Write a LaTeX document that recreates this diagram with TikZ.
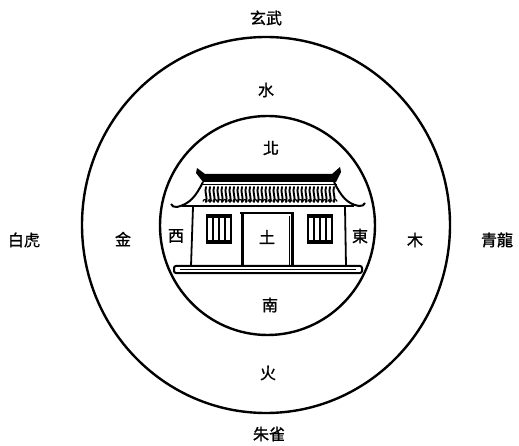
\documentclass[tikz,border=0pt]{standalone}
\usepackage{fontspec}
\newfontfamily\cjk[FakeBold=1.2]{Noto Sans CJK TC}
\begin{document}
\begin{tikzpicture}[x=1pt,y=-1pt,
  lbl/.style={font=\cjk\fontsize{16}{16}\selectfont, inner sep=0pt},
  ring/.style={line width=2.4pt},
  wall/.style={line width=1.8pt},
  post/.style={line width=3pt},
  tile/.style={line width=1.9pt, line cap=round}]
\useasboundingbox (0,0) rectangle (519,446);
\fill[white] (0,0) rectangle (519,446);

% the two rings
\draw[ring] (266,225) ellipse [x radius=184, y radius=188];
\draw[ring] (267.5,225.5) ellipse [x radius=107.5, y radius=109.5];

% --- house ---
% ridge with upturned ends
\fill (197,168) -- (205,174) -- (332,174) -- (340,167) -- (341,172) -- (336,182)
      -- (203,182) -- (196,173) -- cycle;
\draw[line width=1.4pt] (201,184.5) -- (337,184.5);
% roof slopes sweeping out to curled eaves
\draw[line width=2pt] (203,182) .. controls (196,196) and (190,204) .. (177,207)
      .. controls (174,207.5) and (172,206) .. (171,204);
\draw[line width=2pt] (334,182) .. controls (341,196) and (347,204) .. (359,206)
      .. controls (362,206.5) and (364,205) .. (365,203);
% tiles
\foreach \x in {206,210,...,334}
  \draw[tile] (\x,187) .. controls (\x-2,192) and (\x+2,197) .. (\x,202);
\foreach \x in {205,210,...,335}
  \draw[line width=1.2pt] (\x-2,201.5) arc[start angle=180, end angle=360, radius=2];
% eave beam
\draw[line width=2.6pt] (182,206) -- (354,206);
% walls
\draw[wall] (193,207) -- (191,266);
\draw[wall] (345,207) -- (346,266);
% door
\draw[post] (242,212) -- (242,266);
\draw[post] (292,212) -- (292,266);
\draw[line width=2.2pt] (240,213) -- (294,213);
\draw[line width=0.8pt] (289,216) -- (289,265);
% windows
\foreach \wx in {206,307}{
  \draw[line width=3.4pt] (\wx,216) -- (\wx+26,216);
  \draw[line width=3.4pt] (\wx,242) -- (\wx+26,242);
  \foreach \d in {0.9,6.8,12.8,18.8,25.1}
    \draw[line width=2pt] (\wx+\d,216) -- (\wx+\d,242);
}
% base platform
\draw[line width=2pt, rounded corners=2pt] (174,266) rectangle (362,273);
\draw[line width=1pt] (180,269.5) -- (356,269.5);

% --- labels ---
\node[lbl] (xuanwu) at (266,18)  {玄武};
\node[lbl] (shui)   at (266,90)  {水};
\node[lbl] (bei)    at (271,148) {北};
\node[lbl] (xi)     at (176,236) {西};
\node[lbl] (tu)     at (267,237) {土};
\node[lbl] (dong)   at (360,236) {東};
\node[lbl] (jin)    at (123,239) {金};
\node[lbl] (mu)     at (415,240) {木};
\node[lbl] (baihu)  at (24,240)  {白虎};
\node[lbl] (qinglong) at (497,240) {青龍};
\node[lbl] (nan)    at (270,305) {南};
\node[lbl] (huo)    at (268,373) {火};
\node[lbl] (zhuque) at (269,434) {朱雀};
\end{tikzpicture}
\end{document}
